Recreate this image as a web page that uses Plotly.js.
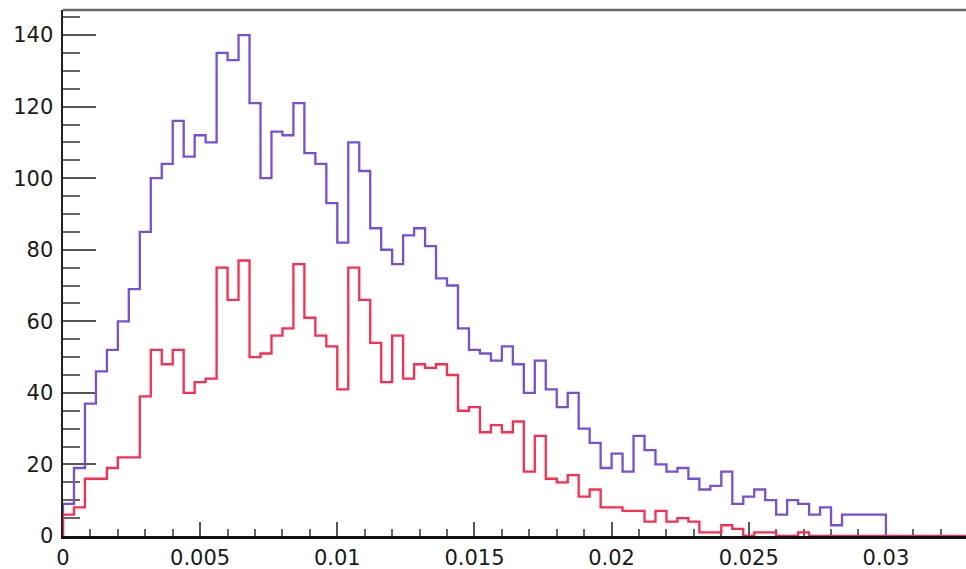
<!DOCTYPE html>
<html>
<head>
<meta charset="utf-8">
<script src="https://cdn.plot.ly/plotly-3.0.1.min.js"></script>
<style>
  html, body { margin: 0; padding: 0; background: #ffffff; }
  #chart { width: 966px; height: 569px; }
</style>
</head>
<body>
<div id="chart"></div>
<script>
// Histogram bin width (x units) and bin contents
const binWidth = 0.0004;
const xMax = 0.03292;

const blueCounts = [
  9, 19, 37, 46, 52, 60, 69, 85, 100, 104,
  116, 106, 112, 110, 135, 133, 140, 121, 100, 113,
  112, 121, 107, 104, 93, 82, 110, 102, 86, 80,
  76, 84, 86, 81, 72, 70, 58, 52, 51, 49,
  53, 48, 40, 49, 41, 36, 40, 30, 26, 19,
  23, 18, 28, 24, 20, 18, 19, 16, 13, 14,
  18, 9, 11, 13, 10, 6, 10, 9, 6, 8,
  3, 6, 6, 6, 6
];

const redCounts = [
  6, 8, 16, 16, 19, 22, 22, 39, 52, 48,
  52, 40, 43, 44, 75, 66, 77, 50, 51, 56,
  58, 76, 61, 56, 53, 41, 75, 66, 54, 43,
  56, 44, 48, 47, 48, 45, 35, 36, 29, 31,
  29, 32, 18, 28, 16, 15, 17, 11, 13, 8,
  8, 7, 7, 4, 7, 4, 5, 4, 1, 1,
  3, 2, 0, 1, 1, 0, 0, 1, 0, 0,
  0, 0, 0, 0, 0
];

const xTickVals = [0, 0.005, 0.01, 0.015, 0.02, 0.025, 0.03];
const xTickText = ["0", "0.005", "0.01", "0.015", "0.02", "0.025", "0.03"];
const yTickVals = [0, 20, 40, 60, 80, 100, 120, 140];
const yTickText = ["0", "20", "40", "60", "80", "100", "120", "140"];

// Build step outlines (ROOT-style histogram) from bin contents
function stepTrace(counts, extendTo) {
  const xs = [0], ys = [0];
  counts.forEach((c, i) => { xs.push(i * binWidth); ys.push(c); });
  const end = counts.length * binWidth;
  xs.push(end); ys.push(0);
  if (extendTo !== undefined) { xs.push(extendTo); ys.push(0); }
  return { xs, ys };
}

const blue = stepTrace(blueCounts);
const red = stepTrace(redCounts, xMax);

const traces = [
  {
    x: blue.xs, y: blue.ys, type: 'scatter', mode: 'lines',
    line: { shape: 'hv', color: '#7550d8', width: 2.3 },
    hoverinfo: 'skip', showlegend: false
  },
  {
    x: red.xs, y: red.ys, type: 'scatter', mode: 'lines',
    line: { shape: 'hv', color: '#fc2d50', width: 2.3 },
    hoverinfo: 'skip', showlegend: false
  }
];

const tickFont = { family: 'DejaVu Sans, Arial, sans-serif', size: 21, color: '#1a1a1a' };

const layout = {
  width: 966, height: 569,
  margin: { l: 63, r: 0, t: 10, b: 33, pad: 0 },
  paper_bgcolor: '#ffffff', plot_bgcolor: '#ffffff',
  showlegend: false,
  xaxis: {
    range: [0, xMax], showgrid: false, zeroline: false,
    showline: true, linecolor: '#111111', linewidth: 2.5,
    layer: 'below traces',
    tickmode: 'array', tickvals: xTickVals, ticktext: xTickText,
    ticks: 'inside', ticklen: 14, tickwidth: 2, tickcolor: '#555555',
    minor: { ticks: 'inside', dtick: 0.001, tick0: 0, ticklen: 7, tickwidth: 2, tickcolor: '#666666', showgrid: false },
    tickfont: tickFont, ticklabelstandoff: 1
  },
  yaxis: {
    range: [0, 147], showgrid: false, zeroline: false,
    showline: true, linecolor: '#222222', linewidth: 2.5,
    layer: 'below traces',
    tickmode: 'array', tickvals: yTickVals, ticktext: yTickText,
    ticks: 'inside', ticklen: 33, tickwidth: 2, tickcolor: '#555555',
    minor: { ticks: 'inside', dtick: 5, tick0: 0, ticklen: 17, tickwidth: 2, tickcolor: '#666666', showgrid: false },
    tickfont: tickFont, ticklabelstandoff: 3
  },
  shapes: [
    { type: 'line', xref: 'paper', yref: 'paper', x0: 0, x1: 1, y0: 1, y1: 1,
      line: { color: '#666666', width: 2.5 } }
  ]
};

Plotly.newPlot('chart', traces, layout, { staticPlot: true, displayModeBar: false });
</script>
</body>
</html>
